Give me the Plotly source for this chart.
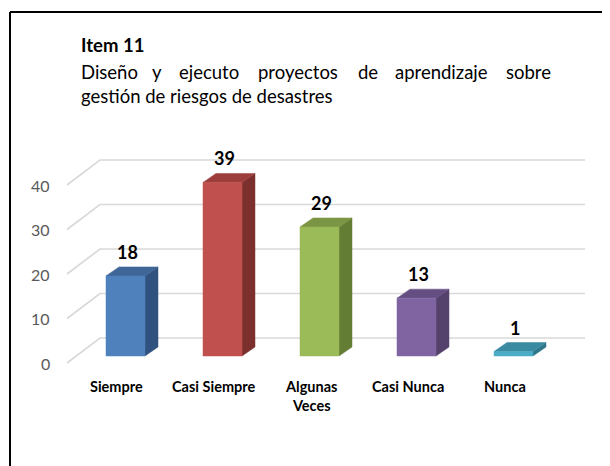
import plotly.graph_objects as go

# ---------------- data ----------------
categories = ["Siempre", "Casi Siempre", "Algunas<br>Veces", "Casi Nunca", "Nunca"]
values = [18, 39, 29, 13, 1]
y_ticks = [0, 10, 20, 30, 40]
title_bold = "Item 11"
subtitle_line1 = ["Diseño", "y", "ejecuto", "proyectos", "de", "aprendizaje", "sobre"]
subtitle_line2 = "gestión de riesgos de desastres"

# ---------------- styling ----------------
front_colors = ["#4F81BD", "#C0504D", "#9BBB59", "#8064A2", "#4BACC6"]
top_colors = ["#3E6697", "#9C3F3C", "#7A9543", "#654F82", "#3A8BA1"]
side_colors = ["#30527F", "#7C302E", "#647D35", "#54416C", "#2F7689"]

OFF = 8            # page body margin (screen px -> figure px)
W, H = 610 - OFF, 466 - OFF
PX_CAT = 97.0      # pixels per category
X0_PX = 125.5 - OFF  # figure pixel of category 0 (bar front centre)
PX_UNIT = 4.45     # pixels per value unit
Y0_PX = 356.0 - OFF  # figure pixel of value 0 on the bar plane

def sx(px):  # screen x -> figure paper fraction
    return (px - OFF) / W

def sy(py):  # screen y -> figure paper fraction
    return 1 - (py - OFF) / H

def cx(px):  # screen x -> category coordinate
    return (px - OFF - X0_PX) / PX_CAT

bar_w = 39 / PX_CAT
dx_bar, dy_bar = 13 / PX_CAT, 9 / PX_UNIT       # bar depth projection
dx_front, dy_front = -9 / PX_CAT, -7 / PX_UNIT  # front plane offset
x_front_left = cx(67)
x_back_left = cx(100)
x_back_right = cx(585)
dy_back = 18 / PX_UNIT

xr = [-X0_PX / PX_CAT, (W - X0_PX) / PX_CAT]
yr = [(Y0_PX - H) / PX_UNIT, Y0_PX / PX_UNIT]

fig = go.Figure()

# gridlines (floor diagonal + back wall)
for v in y_ticks:
    fig.add_trace(go.Scatter(
        x=[x_front_left, x_back_left, x_back_right],
        y=[v + dy_front, v + dy_back, v + dy_back],
        mode="lines", line=dict(color="#D9D9D9", width=1.7),
        hoverinfo="skip", showlegend=False))

# 3D bars
for i, v in enumerate(values):
    xl, xr_ = i - bar_w / 2, i + bar_w / 2
    fig.add_trace(go.Scatter(
        x=[xr_, xr_ + dx_bar, xr_ + dx_bar, xr_, xr_],
        y=[0, dy_bar, v + dy_bar, v, 0],
        fill="toself", fillcolor=side_colors[i], mode="lines",
        line=dict(color=side_colors[i], width=0.5), hoverinfo="skip", showlegend=False))
    fig.add_trace(go.Scatter(
        x=[xl, xr_, xr_ + dx_bar, xl + dx_bar, xl],
        y=[v, v, v + dy_bar, v + dy_bar, v],
        fill="toself", fillcolor=top_colors[i], mode="lines",
        line=dict(color=top_colors[i], width=0.5), hoverinfo="skip", showlegend=False))
    fig.add_trace(go.Scatter(
        x=[xl, xr_, xr_, xl, xl],
        y=[0, 0, v, v, 0],
        fill="toself", fillcolor=front_colors[i], mode="lines",
        line=dict(color=front_colors[i], width=0.5), hoverinfo="skip", showlegend=False))

annotations = []
FONT = "Lato, Calibri, Carlito, sans-serif"

# data labels
for i, v in enumerate(values):
    annotations.append(dict(
        x=i + 0.02, y=v + 24 / PX_UNIT, xref="x", yref="y", text=f"<b>{v}</b>",
        showarrow=False, font=dict(family=FONT, size=18, color="#000000"),
        xanchor="center", yanchor="middle"))

# category labels
for i, c in enumerate(categories):
    annotations.append(dict(
        x=i + dx_front, y=dy_front - 13 / PX_UNIT, xref="x", yref="y", text=f"<b>{c}</b>",
        showarrow=False, font=dict(family=FONT, size=14.5, color="#000000"),
        xanchor="center", yanchor="top", align="center"))

# y tick labels
for v in y_ticks:
    annotations.append(dict(
        x=cx(52), y=v + dy_front, xref="x", yref="y", text=str(v),
        showarrow=False, font=dict(family=FONT, size=16, color="#595959"),
        xanchor="right", yanchor="middle"))

TFS = 18.5
annotations.append(dict(
    x=sx(79), y=sy(45), xref="paper", yref="paper", text=f"<b>{title_bold}</b>",
    showarrow=False, font=dict(family=FONT, size=TFS, color="#000000"),
    xanchor="left", yanchor="middle"))

# justified first subtitle line (equal gaps between words)
word_px = [79, 150, 177, 256, 356, 393, 504]
for w, xp in zip(subtitle_line1, word_px):
    annotations.append(dict(
        x=sx(xp), y=sy(72), xref="paper", yref="paper", text=w,
        showarrow=False, font=dict(family=FONT, size=TFS, color="#000000"),
        xanchor="left", yanchor="middle"))
annotations.append(dict(
    x=sx(79), y=sy(96), xref="paper", yref="paper", text=subtitle_line2,
    showarrow=False, font=dict(family=FONT, size=TFS, color="#000000"),
    xanchor="left", yanchor="middle"))

shapes = [
    dict(type="line", xref="paper", yref="paper", x0=sx(10), x1=1.0,
         y0=sy(12), y1=sy(12), line=dict(color="#000000", width=2)),
    dict(type="line", xref="paper", yref="paper", x0=sx(10), x1=sx(10),
         y0=sy(12), y1=0, line=dict(color="#000000", width=2)),
]

fig.update_layout(
    width=W, height=H, autosize=False,
    margin=dict(l=0, r=0, t=0, b=0),
    paper_bgcolor="#FFFFFF", plot_bgcolor="#FFFFFF",
    xaxis=dict(range=xr, visible=False, fixedrange=True),
    yaxis=dict(range=yr, visible=False, fixedrange=True),
    annotations=annotations, shapes=shapes, showlegend=False,
)

fig.write_html("out.html")
